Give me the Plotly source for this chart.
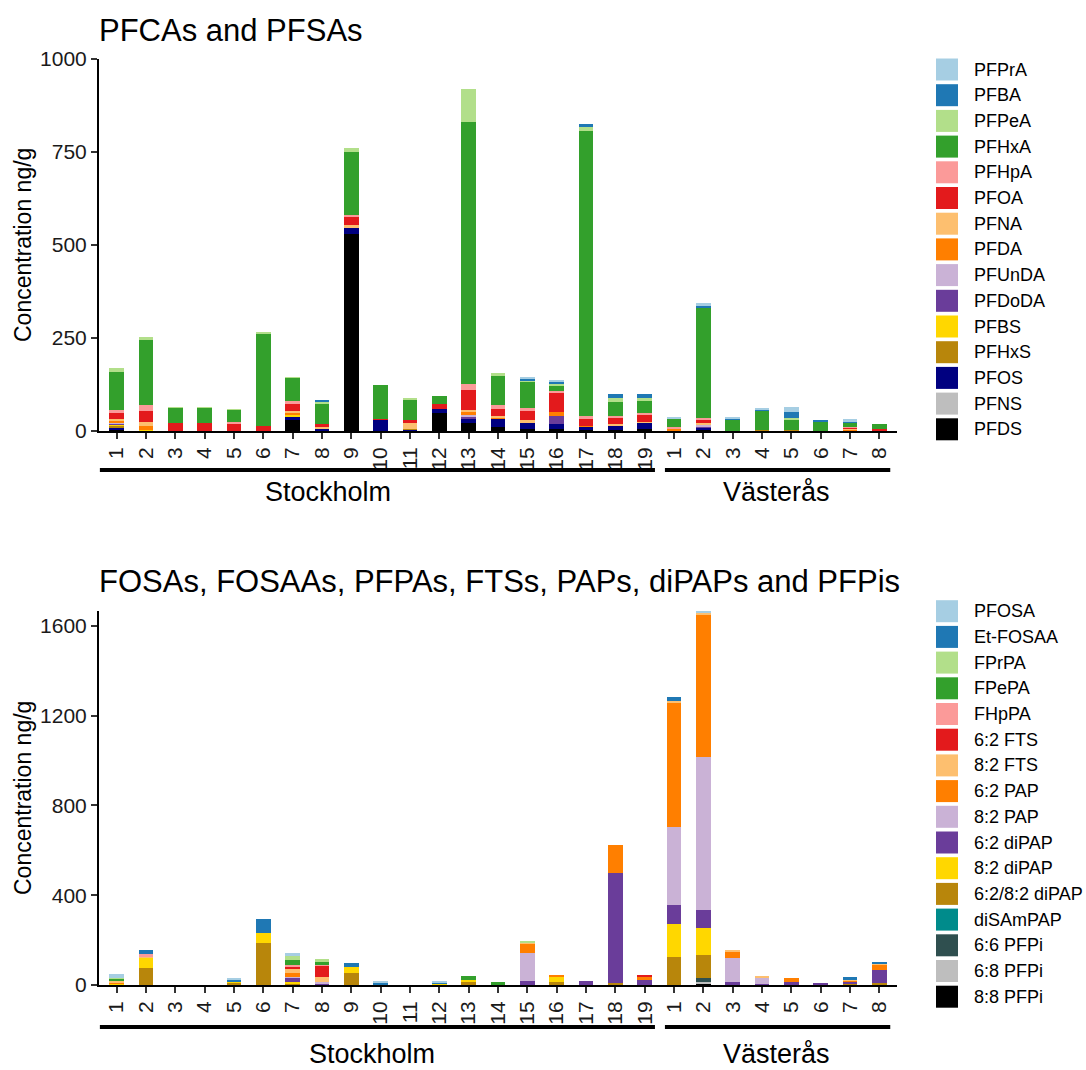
import plotly.graph_objects as go

# ---------------------------------------------------------------- data
sites = [str(i) for i in range(1, 20)] + [str(i) for i in range(1, 9)]
groups = ["Stockholm"] * 19 + ["Västerås"] * 8

# PFCAs and PFSAs (ng/g), order: Stockholm 1-19, Västerås 1-8
pfca_names = ["PFPrA", "PFBA", "PFPeA", "PFHxA", "PFHpA", "PFOA", "PFNA", "PFDA",
              "PFUnDA", "PFDoDA", "PFBS", "PFHxS", "PFOS", "PFNS", "PFDS"]
pfca_colors = ["#A6CEE3", "#1F78B4", "#B2DF8A", "#33A02C", "#FB9A99", "#E31A1C",
               "#FDBF6F", "#FF7F00", "#CAB2D6", "#6A3D9A", "#FFD700", "#B8860B",
               "#000080", "#BEBEBE", "#000000"]
PFPrA = [0, 0, 0, 0, 0, 0, 0, 0, 0, 0, 0, 0, 0, 0, 3.5, 3, 0, 0, 0,
         3, 9, 2.7, 2.7, 12.5, 0, 6.3, 0]
PFBA = [0, 0, 0, 0, 0, 0, 0, 4, 0, 0, 0, 0, 0, 0, 4.5, 7, 7, 11, 11,
        0, 4.5, 2.7, 3.6, 16, 3.6, 2.7, 0]
PFPeA = [12, 9, 2.5, 2, 1, 3, 1, 3, 12, 0, 3, 0, 89, 9, 4.5, 3.5, 11, 9, 7,
         0, 0, 0, 0, 4.5, 0, 0, 0]
PFHxA = [103, 175, 40, 40, 34, 250, 61, 55, 168, 92, 56, 21, 704, 79, 70, 16, 768, 38.5, 31,
         22, 297, 30.5, 51, 28, 26, 10.8, 11.7]
PFHpA = [4.5, 15, 0, 0, 5, 0, 9, 0, 5, 0, 0, 0, 18, 9, 9, 6, 5, 4.5, 4.5,
         3, 3.5, 0, 0, 0, 0, 2.7, 0]
PFOA = [18, 30, 22, 22, 19, 13, 18, 10, 23, 3, 8, 12, 53, 20, 25, 50, 20, 18, 20,
        2, 10, 0, 0, 0, 0, 2.7, 4.5]
PFNA = [5, 11, 0, 0, 0, 0, 7, 3, 5, 0, 16, 0, 5, 3, 6, 0, 0, 3.5, 3.5,
        0, 5.5, 0, 0, 0, 0, 2.7, 0]
PFDA = [4, 9, 0, 0, 0, 0, 4.5, 0, 0, 0, 0, 0, 9, 4, 0, 11, 3, 0, 0,
        6, 0, 0, 0, 0, 0, 3.6, 0]
PFUnDA = [3, 0, 0, 0, 0, 0, 0, 0, 0, 0, 0, 0, 3, 0, 0, 0, 0, 0, 0,
          0, 3.5, 0, 0, 0, 0, 0, 0]
PFDoDA = [3, 0, 0, 0, 0, 0, 0, 0, 0, 0, 0, 0, 7, 0, 0, 21, 0, 0, 0,
          0, 2, 0, 0, 0, 0, 0, 0]
PFBS = [4, 4, 0, 0, 0, 0, 3, 0, 0, 0, 0, 0, 0, 0, 0, 0, 0, 0, 0,
        0, 0, 0, 0, 0, 0, 0, 0]
PFHxS = [6, 0, 0, 0, 0, 0, 0, 0, 0, 0, 3, 0, 0, 0, 0, 0, 0, 0, 0,
         0, 0, 0, 3.6, 3.6, 0, 0, 0]
PFOS = [4, 0, 0, 0, 0, 0, 11, 5, 18, 29, 3, 12, 11, 22, 18, 15, 8, 11, 17,
        0, 7, 0, 0, 0, 0, 0, 0]
PFNS = [1, 0, 0, 0, 0, 0, 0, 0, 0, 0, 0, 0, 0, 0, 0, 0, 0, 0, 0,
        0, 0, 0, 0, 0, 0, 0, 0]
PFDS = [3, 0, 0, 0, 0, 0, 29, 2, 530, 1, 0, 48, 21.5, 11, 4.5, 4.5, 3, 3.5, 4.5,
        0, 2.5, 0, 0, 0, 0, 0, 1.8]
pfca_values = [PFPrA, PFBA, PFPeA, PFHxA, PFHpA, PFOA, PFNA, PFDA,
               PFUnDA, PFDoDA, PFBS, PFHxS, PFOS, PFNS, PFDS]

# Precursors (ng/g)
prec_names = ["PFOSA", "Et-FOSAA", "FPrPA", "FPePA", "FHpPA", "6:2 FTS", "8:2 FTS",
              "6:2 PAP", "8:2 PAP", "6:2 diPAP", "8:2 diPAP", "6:2/8:2 diPAP",
              "diSAmPAP", "6:6 PFPi", "6:8 PFPi", "8:8 PFPi"]
prec_colors = ["#A6CEE3", "#1F78B4", "#B2DF8A", "#33A02C", "#FB9A99", "#E31A1C",
               "#FDBF6F", "#FF7F00", "#CAB2D6", "#6A3D9A", "#FFD700", "#B8860B",
               "#008B8B", "#2F4F4F", "#BEBEBE", "#000000"]
PFOSA = [18, 0, 0, 0, 4.5, 0, 10.4, 0, 0, 3, 0, 3, 0, 0, 0, 0, 0, 0, 0,
         0, 9, 0, 0, 0, 0, 0, 0]
Et_FOSAA = [0, 18, 0, 0, 12, 64, 0, 0, 21, 8, 0, 6, 0, 0, 0, 0, 0, 0, 0,
            17.8, 0, 0, 0, 0, 0, 10.4, 10.4]
FPrPA = [2, 0, 0, 0, 0, 0, 19, 14.8, 0, 0, 0, 0, 0, 0, 6, 0, 0, 0, 0,
         0, 0, 0, 0, 0, 0, 0, 0]
FPePA = [5, 0, 0, 0, 0, 0, 22, 7.4, 0, 0, 0, 0, 16, 13, 0, 0, 0, 0, 0,
         0, 0, 0, 0, 0, 0, 0, 0]
FHpPA = [4, 12, 0, 0, 0, 0, 10.4, 4.5, 0, 0, 0, 0, 0, 0, 0, 0, 0, 0, 0,
         0, 0, 0, 0, 0, 0, 0, 0]
FTS_62 = [0, 0, 0, 0, 0, 0, 9, 52, 0, 0, 0, 0, 0, 0, 0, 0, 0, 0, 4.5,
          0, 0, 0, 0, 0, 0, 0, 0]
FTS_82 = [5, 6, 0, 0, 0, 0, 15, 25, 0, 0, 0, 0, 0, 0, 4.5, 0, 0, 0, 0,
          6, 7.4, 4.5, 4.5, 0, 0, 4.5, 3]
PAP_62 = [6, 0, 0, 0, 0, 0, 18, 0, 0, 0, 0, 0, 0, 0, 44.5, 7, 0, 126, 15,
          558, 632, 31, 0, 17.8, 0, 4.5, 22]
PAP_82 = [0, 0, 0, 0, 0, 0, 4.5, 4.5, 0, 0, 0, 0, 0, 0, 123, 0, 0, 0, 0,
          344, 684, 108, 28, 0, 0, 0, 0]
diPAP_62 = [0, 0, 0, 0, 0, 0, 18, 7.4, 0, 0, 0, 0, 0, 0, 18, 0, 18, 486.5, 22,
            86, 81.6, 12, 4.5, 12, 7, 10.4, 61]
diPAP_82 = [3, 44.5, 0, 0, 4.5, 44.5, 7.4, 0, 23.7, 0, 0, 3, 7.4, 0, 0, 22, 0, 0, 0,
            145.5, 117, 0, 0, 0, 0, 0, 0]
diPAP_6282 = [4, 76, 0, 0, 10, 185.5, 7.4, 0, 55, 4, 0, 3, 15, 2, 0, 15, 0, 10.4, 0,
              126, 105, 0, 0, 0, 0, 4.5, 7.4]
diSAmPAP = [0] * 27
PFPi_66 = [0] * 19 + [0, 17.8, 0, 0, 0, 0, 0, 0]
PFPi_68 = [0] * 19 + [0, 7.4, 0, 0, 0, 0, 0, 0]
PFPi_88 = [0] * 19 + [0, 4.5, 0, 0, 0, 0, 0, 0]
prec_values = [PFOSA, Et_FOSAA, FPrPA, FPePA, FHpPA, FTS_62, FTS_82, PAP_62, PAP_82,
               diPAP_62, diPAP_82, diPAP_6282, diSAmPAP, PFPi_66, PFPi_68, PFPi_88]

# ---------------------------------------------------------------- layout helpers
W, H = 1086, 1070
FONT = "Liberation Sans, Arial, sans-serif"


def fx(px):
    return px / W


def fy(py):
    return 1 - py / H


x_pos = list(range(len(sites)))
top_dom = [fy(431), fy(59)]
bot_dom = [fy(985), fy(611)]
x_dom = [fx(99), fx(897)]

fig = go.Figure()

# stacked bars: first trace sits at the bottom, so add in reverse legend order
for names, colors, values, ax in [(pfca_names, pfca_colors, pfca_values, ("x", "y")),
                                  (prec_names, prec_colors, prec_values, ("x2", "y2"))]:
    for name, color, vals in reversed(list(zip(names, colors, values))):
        fig.add_trace(go.Bar(x=x_pos, y=vals, name=name, width=0.5,
                             marker=dict(color=color, line=dict(width=0)),
                             xaxis=ax[0], yaxis=ax[1], showlegend=False))

bot_max = max(sum(v[i] for v in prec_values) for i in range(len(sites)))

axis_common = dict(showline=True, linecolor="black", linewidth=2, ticks="outside",
                   ticklen=6, tickwidth=2, tickcolor="#333333", showgrid=False,
                   zeroline=False, tickfont=dict(family=FONT, size=21, color="#1a1a1a"),
                   automargin=False)

xaxis_common = dict(axis_common, tickmode="array", tickvals=x_pos, ticktext=sites,
                    tickangle=-90, range=[-0.6, len(sites) - 0.4], domain=x_dom)

fig.update_layout(
    width=W, height=H, margin=dict(l=0, r=0, t=0, b=0),
    paper_bgcolor="white", plot_bgcolor="white", barmode="stack", showlegend=False,
    font=dict(family=FONT, color="black"),
    xaxis=dict(xaxis_common, anchor="y"),
    yaxis=dict(axis_common, anchor="x", domain=top_dom, range=[0, 1000],
               tickvals=[0, 250, 500, 750, 1000]),
    xaxis2=dict(xaxis_common, anchor="y2"),
    yaxis2=dict(axis_common, anchor="x2", domain=bot_dom, range=[0, bot_max],
                tickvals=[0, 400, 800, 1200, 1600]),
)

annotations = []
shapes = []

# panel titles
annotations.append(dict(text="PFCAs and PFSAs", xref="paper", yref="paper",
                        x=fx(97), y=fy(30), xanchor="left", yanchor="middle",
                        showarrow=False, font=dict(size=31, family=FONT, color="black")))
annotations.append(dict(text="FOSAs, FOSAAs, PFPAs, FTSs, PAPs, diPAPs and PFPis",
                        xref="paper", yref="paper", x=fx(97), y=fy(581),
                        xanchor="left", yanchor="middle", showarrow=False,
                        font=dict(size=31, family=FONT, color="black")))

# y-axis titles
for yref in ["y domain", "y2 domain"]:
    annotations.append(dict(text="Concentration ng/g", xref="paper", yref=yref,
                            x=fx(23), y=0.5, textangle=-90, showarrow=False,
                            xanchor="center", yanchor="middle",
                            font=dict(size=23, family=FONT, color="black")))

# city brackets below the site numbers
n_sth = groups.count("Stockholm")
n_all = len(groups)
for xr, yr, line_y, lab_y, sth_mid in [("x", "y domain", -0.1046, -0.1635, 7.2),
                                       ("x2", "y2 domain", -0.1123, -0.1840, 8.7)]:
    shapes.append(dict(type="line", xref=xr, yref=yr, x0=-0.57, x1=n_sth - 0.65,
                       y0=line_y, y1=line_y, line=dict(color="black", width=4)))
    shapes.append(dict(type="line", xref=xr, yref=yr, x0=n_sth - 0.31, x1=n_all - 0.63,
                       y0=line_y, y1=line_y, line=dict(color="black", width=4)))
    annotations.append(dict(text="Stockholm", xref=xr, yref=yr, x=sth_mid, y=lab_y,
                            showarrow=False, xanchor="center", yanchor="middle",
                            font=dict(size=27, family=FONT, color="black")))
    annotations.append(dict(text="Västerås", xref=xr, yref=yr, x=22.5, y=lab_y,
                            showarrow=False, xanchor="center", yanchor="middle",
                            font=dict(size=27, family=FONT, color="black")))

# legends (square keys + labels)
for names, colors, y_first in [(pfca_names, pfca_colors, 69.5),
                               (prec_names, prec_colors, 611.2)]:
    step = 25.7
    for i, (name, color) in enumerate(zip(names, colors)):
        yc = y_first + i * step
        shapes.append(dict(type="rect", xref="paper", yref="paper",
                           x0=fx(936), x1=fx(958), y0=fy(yc - 11), y1=fy(yc + 11),
                           fillcolor=color, line=dict(width=0)))
        annotations.append(dict(text=name, xref="paper", yref="paper",
                                x=fx(972), y=fy(yc), xanchor="left", yanchor="middle",
                                showarrow=False,
                                font=dict(size=18, family=FONT, color="black")))

fig.update_layout(annotations=annotations, shapes=shapes)

fig.write_html("out.html")
